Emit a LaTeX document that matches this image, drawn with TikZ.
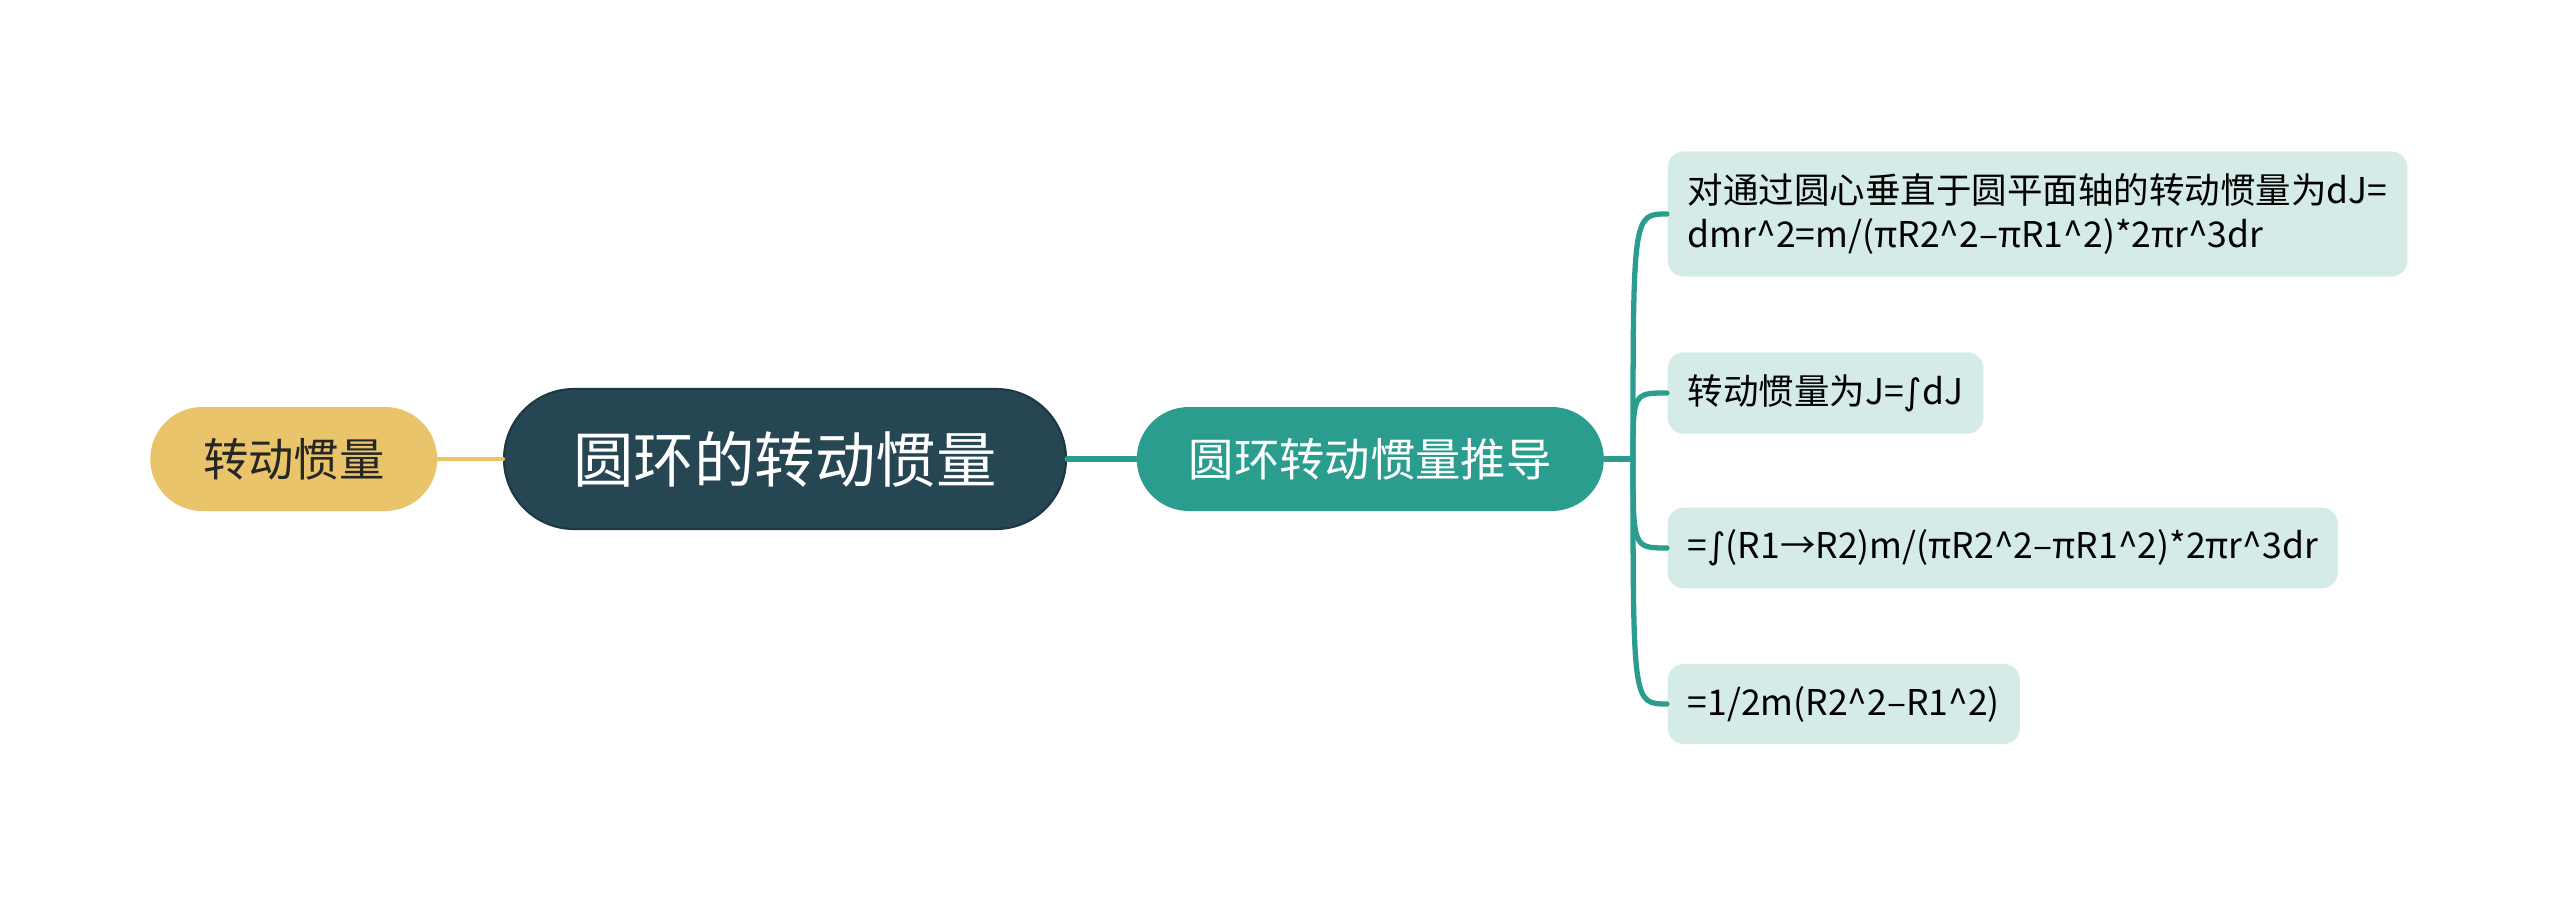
\documentclass[tikz,border=0pt]{standalone}
\usepackage{fontspec}
\setmainfont{Noto Sans CJK SC}
\newfontfamily\intfont{DejaVu Sans}
\usetikzlibrary{positioning}
\definecolor{rootblue}{HTML}{264653}
\definecolor{branchteal}{HTML}{2A9D8F}
\definecolor{sideyellow}{HTML}{E9C46A}
\definecolor{leaffill}{HTML}{D5EBE8}
\newcommand{\intsign}{{\intfont ∫}}

\begin{document}
\begin{tikzpicture}[line cap=round,
    rootbox/.style={fill=rootblue, draw=rootblue!80!black, line width=0.6pt,
      rounded corners=0.7cm, minimum width=5.62cm, minimum height=1.4cm,
      text=white, font=\fontsize{17.2}{20}\selectfont},
    subbox/.style={fill=branchteal, rounded corners=0.52cm, minimum width=4.67cm,
      minimum height=1.04cm, text=white, font=\fontsize{12.9}{15}\selectfont},
    sidebox/.style={fill=sideyellow, rounded corners=0.52cm, minimum width=2.87cm,
      minimum height=1.04cm, text=black!85, font=\fontsize{12.9}{15}\selectfont},
    leafbox/.style={fill=leaffill, rounded corners=0.16cm, anchor=west, align=left,
      inner xsep=0.2cm, inner ysep=0.22cm, minimum height=0.8cm,
      text=black, font=\fontsize{10.1}{12.6}\selectfont},
    tealline/.style={draw=branchteal, line width=1.5pt},
    yellowline/.style={draw=sideyellow, line width=1.2pt}]
  \useasboundingbox (0,0) rectangle (25.6,8.97);

  \node[rootbox] (root) at (7.85,4.38) {圆环的转动惯量};
  \node[sidebox] (side) [left=0.65cm of root] {转动惯量};
  \node[subbox] (derive) [right=0.69cm of root] {圆环转动惯量推导};
  \coordinate (hub) at (16.33,4.38);

  \node[leafbox] (dj) at (16.67,6.83) {对通过圆心垂直于圆平面轴的转动惯量为dJ=\\dmr\^{}2=m/(πR2\^{}2–πR1\^{}2)*2πr\^{}3dr};
  \node[leafbox] (sum) at (16.67,5.04) {转动惯量为J=\intsign dJ};
  \node[leafbox] (integral) at (16.67,3.49) {=\intsign(R1→R2)m/(πR2\^{}2–πR1\^{}2)*2πr\^{}3dr};
  \node[leafbox] (result) at (16.67,1.93) {=1/2m(R2\^{}2–R1\^{}2)};

  \draw[yellowline] (side) -- (root);
  \draw[tealline] (root) -- (derive);
  \draw[tealline] (derive.east) -- (hub);
  \foreach \leaf in {dj,sum,integral,result}
    \draw[tealline] (hub) .. controls (hub |- \leaf.west) .. (\leaf.west);
\end{tikzpicture}
\end{document}
